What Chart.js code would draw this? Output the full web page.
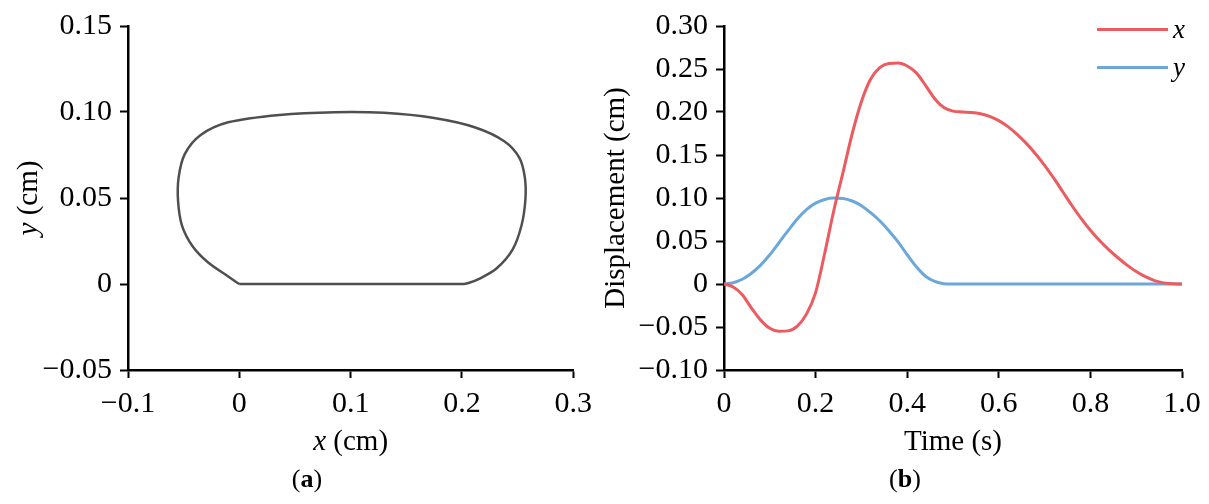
<!DOCTYPE html>
<html>
<head>
<meta charset="utf-8">
<script src="https://cdn.jsdelivr.net/npm/chart.js@4.4.0/dist/chart.umd.min.js"></script>
<style>
html,body{margin:0;padding:0;background:#fff;width:1209px;height:504px;overflow:hidden;}
.panel{position:absolute;top:0;}
.cap{position:absolute;top:466px;font-family:"Liberation Serif","Times New Roman",serif;font-size:26px;line-height:26px;color:#000;transform:translateX(-50%);white-space:nowrap;}
</style>
</head>
<body>
<div class="panel" style="left:0;width:600px;height:504px"><canvas id="chartA" width="600" height="504"></canvas></div>
<div class="panel" style="left:600px;width:609px;height:504px"><canvas id="chartB" width="609" height="504"></canvas></div>
<div class="cap" style="left:307px">(<b>a</b>)</div>
<div class="cap" style="left:905px">(<b>b</b>)</div>
<script>
// ---------------- data ----------------
const time = [0, 0.02, 0.04, 0.06, 0.08, 0.10, 0.12, 0.14, 0.16, 0.18,
              0.20, 0.22, 0.24, 0.26, 0.28, 0.30, 0.32, 0.34, 0.36, 0.38,
              0.40, 0.42, 0.44, 0.46, 0.48, 0.50, 0.52, 0.54, 0.56, 0.58,
              0.60, 0.62, 0.64, 0.66, 0.68, 0.70, 0.72, 0.74, 0.76, 0.78,
              0.80, 0.82, 0.84, 0.86, 0.88, 0.90, 0.92, 0.94, 0.96, 0.98, 1.00];
const xDisp = [0, -0.0035, -0.0125, -0.028, -0.042, -0.0515, -0.055, -0.0545, -0.049, -0.035,
               -0.010, 0.036, 0.086, 0.130, 0.175, 0.212, 0.238, 0.2515, 0.2565, 0.2570,
               0.2535, 0.2455, 0.231, 0.2155, 0.2052, 0.2010, 0.2000, 0.1995, 0.1980, 0.1950,
               0.1900, 0.1830, 0.1740, 0.1635, 0.1515, 0.1380, 0.1230, 0.1070, 0.0910, 0.0760,
               0.0625, 0.0505, 0.0400, 0.0305, 0.0220, 0.0145, 0.0085, 0.0040, 0.0013, 0.0002, 0];
const yDisp = [0, 0.0015, 0.0055, 0.0125, 0.022, 0.034, 0.048, 0.062, 0.0755, 0.0865,
               0.0940, 0.0983, 0.0999, 0.0995, 0.0965, 0.0910, 0.0830, 0.0735, 0.0620, 0.0490,
               0.0340, 0.0200, 0.0090, 0.0030, 0.0004, 0, 0, 0, 0, 0,
               0, 0, 0, 0, 0, 0, 0, 0, 0, 0,
               0, 0, 0, 0, 0, 0, 0, 0, 0, 0, 0];
const seriesNames = ['x', 'y'];

const trajTicksX = [-0.1, 0, 0.1, 0.2, 0.3];
const trajTickLabelsX = ['\u22120.1', '0', '0.1', '0.2', '0.3'];
const trajTicksY = [-0.05, 0, 0.05, 0.10, 0.15];
const trajTickLabelsY = ['\u22120.05', '0', '0.05', '0.10', '0.15'];
const timeTicks = [0, 0.2, 0.4, 0.6, 0.8, 1.0];
const timeTickLabels = ['0', '0.2', '0.4', '0.6', '0.8', '1.0'];
const dispTicks = [-0.10, -0.05, 0, 0.05, 0.10, 0.15, 0.20, 0.25, 0.30];
const dispTickLabels = ['\u22120.10', '\u22120.05', '0', '0.05', '0.10', '0.15', '0.20', '0.25', '0.30'];

const titleTrajX = [{text: 'x', italic: true}, {text: ' (cm)', italic: false}];
const titleTrajY = [{text: 'y', italic: true}, {text: ' (cm)', italic: false}];
const titleTime = [{text: 'Time (s)', italic: false}];
const titleDisp = [{text: 'Displacement (cm)', italic: false}];

// ---------------- helpers ----------------
const FONT = '"Liberation Serif", "Times New Roman", serif';

const richTitles = {
  id: 'richTitles',
  afterDraw(chart, args, opts) {
    const ctx = chart.ctx;
    (opts.items || []).forEach(it => {
      const s = chart.scales[it.scale];
      ctx.save();
      ctx.fillStyle = '#000';
      ctx.textBaseline = 'middle';
      ctx.textAlign = 'left';
      const fonts = it.parts.map(p => (p.italic ? 'italic ' : '') + it.size + 'px ' + FONT);
      const widths = it.parts.map((p, i) => { ctx.font = fonts[i]; return ctx.measureText(p.text).width; });
      const total = widths.reduce((a, b) => a + b, 0);
      if (s.isHorizontal()) {
        ctx.translate((s.left + s.right) / 2, it.pos);
      } else {
        ctx.translate(it.pos, (s.top + s.bottom) / 2);
        ctx.rotate(-Math.PI / 2);
      }
      let x = -total / 2;
      it.parts.forEach((p, i) => { ctx.font = fonts[i]; ctx.fillText(p.text, x, 0); x += widths[i]; });
      ctx.restore();
    });
  }
};

const lineLegend = {
  id: 'lineLegend',
  afterDraw(chart, args, opts) {
    if (!opts || !opts.display) return;
    const ctx = chart.ctx;
    chart.data.datasets.forEach((ds, i) => {
      const y = opts.top + i * opts.gap;
      ctx.save();
      ctx.strokeStyle = ds.borderColor;
      ctx.lineWidth = ds.borderWidth;
      ctx.beginPath();
      ctx.moveTo(opts.x0, y);
      ctx.lineTo(opts.x1, y);
      ctx.stroke();
      ctx.font = 'italic ' + opts.size + 'px ' + FONT;
      ctx.fillStyle = '#000';
      ctx.textBaseline = 'middle';
      ctx.textAlign = 'left';
      ctx.fillText(ds.label, opts.x1 + opts.textGap, y + opts.textDy);
      ctx.restore();
    });
  }
};

function axisCfg(vals, labels, fitSize, horizontal, pad) {
  return {
    type: 'linear',
    min: vals[0],
    max: vals[vals.length - 1],
    afterBuildTicks: s => { s.ticks = vals.map(v => ({value: v})); },
    afterFit: s => { if (horizontal) { s.height = fitSize; } else { s.width = fitSize; } },
    ticks: {
      autoSkip: false, maxRotation: 0, minRotation: 0, padding: pad, color: '#000',
      font: {family: FONT, size: 30},
      callback: (v, i) => labels[i]
    },
    grid: {display: true, drawOnChartArea: false, drawTicks: true, tickLength: 8, tickWidth: 2, tickColor: '#000', color: '#000'},
    border: {display: true, color: '#000', width: 2.5},
    title: {display: false}
  };
}

// ---------------- chart (a) ----------------
new Chart(document.getElementById('chartA'), {
  type: 'scatter',
  data: {
    datasets: [{
      label: 'trajectory',
      data: xDisp.map((v, i) => ({x: v, y: yDisp[i]})),
      showLine: true,
      borderColor: '#4f4f4f',
      borderWidth: 2.5,
      pointRadius: 0,
      tension: 0.3,
      fill: false
    }]
  },
  options: {
    responsive: false,
    animation: false,
    devicePixelRatio: 1,
    layout: {padding: {left: 0, top: 23, right: 25, bottom: 0}},
    scales: {
      x: axisCfg(trajTicksX, trajTickLabelsX, 134, true, 8),
      y: axisCfg(trajTicksY, trajTickLabelsY, 128, false, 8)
    },
    plugins: {
      legend: {display: false},
      tooltip: {enabled: false},
      richTitles: {items: [
        {scale: 'x', parts: titleTrajX, size: 29, pos: 442},
        {scale: 'y', parts: titleTrajY, size: 29, pos: 29.5}
      ]}
    }
  },
  plugins: [richTitles]
});

// ---------------- chart (b) ----------------
new Chart(document.getElementById('chartB'), {
  type: 'scatter',
  data: {
    datasets: [
      {
        label: seriesNames[0],
        data: time.map((t, i) => ({x: t, y: xDisp[i]})),
        showLine: true,
        borderColor: '#EB5B5F',
        borderWidth: 3,
        pointRadius: 0,
        cubicInterpolationMode: 'monotone',
        fill: false
      },
      {
        label: seriesNames[1],
        data: time.map((t, i) => ({x: t, y: yDisp[i]})),
        showLine: true,
        borderColor: '#6CA7DA',
        borderWidth: 3,
        pointRadius: 0,
        cubicInterpolationMode: 'monotone',
        fill: false
      }
    ]
  },
  options: {
    responsive: false,
    animation: false,
    devicePixelRatio: 1,
    layout: {padding: {left: 0, top: 23, right: 27, bottom: 0}},
    scales: {
      x: axisCfg(timeTicks, timeTickLabels, 134, true, 8),
      y: axisCfg(dispTicks, dispTickLabels, 124, false, 8)
    },
    plugins: {
      legend: {display: false},
      tooltip: {enabled: false},
      richTitles: {items: [
        {scale: 'x', parts: titleTime, size: 29, pos: 442},
        {scale: 'y', parts: titleDisp, size: 29, pos: 16}
      ]},
      lineLegend: {display: true, x0: 497, x1: 568, top: 29.5, gap: 38, textGap: 5, textDy: 1, size: 27}
    }
  },
  plugins: [richTitles, lineLegend]
});
</script>
</body>
</html>
